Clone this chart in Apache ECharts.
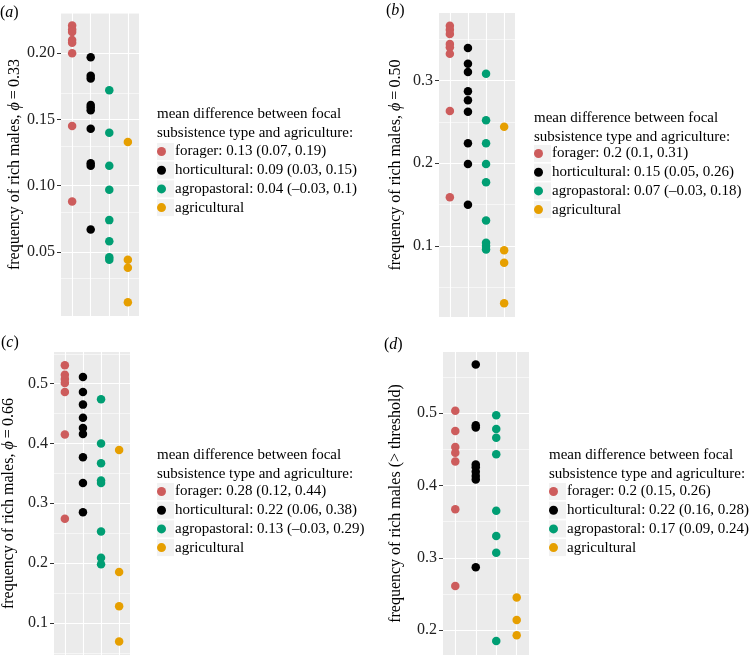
<!DOCTYPE html>
<html><head><meta charset="utf-8">
<script src="https://cdn.jsdelivr.net/npm/echarts@6/dist/echarts.min.js"></script>
<style>html,body{margin:0;padding:0;background:#fff}#c{width:752px;height:656px}</style>
</head><body><div id="c"></div>
<script>
const groups = ['forager', 'horticultural', 'agropastoral', 'agricultural'];
const groupColors = ['#CD5C5C', '#000000', '#009E73', '#E69F00'];

// panel (a): phi = 0.33
const a_forager = [0.221, 0.218, 0.216, 0.210, 0.208, 0.200, 0.145, 0.088];
const a_horticultural = [0.197, 0.183, 0.181, 0.161, 0.159, 0.157, 0.143, 0.117, 0.115, 0.067];
const a_agropastoral = [0.172, 0.140, 0.115, 0.097, 0.074, 0.058, 0.046, 0.044];
const a_agricultural = [0.133, 0.044, 0.038, 0.012];
const a_legend = ['forager: 0.13 (0.07, 0.19)', 'horticultural: 0.09 (0.03, 0.15)', 'agropastoral: 0.04 (\u20130.03, 0.1)', 'agricultural'];
const a_ticks = [0.05, 0.10, 0.15, 0.20];

// panel (b): phi = 0.50
const b_forager = [0.366, 0.361, 0.356, 0.344, 0.340, 0.332, 0.263, 0.159];
const b_horticultural = [0.339, 0.320, 0.310, 0.287, 0.276, 0.262, 0.224, 0.199, 0.150];
const b_agropastoral = [0.308, 0.252, 0.224, 0.199, 0.177, 0.131, 0.104, 0.100, 0.096];
const b_agricultural = [0.244, 0.095, 0.080, 0.031];
const b_legend = ['forager: 0.2 (0.1, 0.31)', 'horticultural: 0.15 (0.05, 0.26)', 'agropastoral: 0.07 (\u20130.03, 0.18)', 'agricultural'];
const b_ticks = [0.1, 0.2, 0.3];

// panel (c): phi = 0.66
const c_forager = [0.531, 0.515, 0.508, 0.501, 0.486, 0.415, 0.274];
const c_horticultural = [0.511, 0.486, 0.465, 0.443, 0.426, 0.416, 0.377, 0.334, 0.285];
const c_agropastoral = [0.474, 0.400, 0.367, 0.338, 0.334, 0.253, 0.209, 0.198];
const c_agricultural = [0.389, 0.185, 0.128, 0.069];
const c_legend = ['forager: 0.28 (0.12, 0.44)', 'horticultural: 0.22 (0.06, 0.38)', 'agropastoral: 0.13 (\u20130.03, 0.29)', 'agricultural'];
const c_ticks = [0.1, 0.2, 0.3, 0.4, 0.5];

// panel (d): > threshold
const d_forager = [0.503, 0.475, 0.453, 0.445, 0.433, 0.367, 0.261];
const d_horticultural = [0.567, 0.483, 0.480, 0.429, 0.425, 0.419, 0.413, 0.408, 0.287];
const d_agropastoral = [0.497, 0.478, 0.466, 0.443, 0.365, 0.330, 0.307, 0.185];
const d_agricultural = [0.245, 0.214, 0.193];
const d_legend = ['forager: 0.2 (0.15, 0.26)', 'horticultural: 0.22 (0.16, 0.28)', 'agropastoral: 0.17 (0.09, 0.24)', 'agricultural'];
const d_ticks = [0.2, 0.3, 0.4, 0.5];

const yNames = [
  'frequency of rich males, {i|\u03D5}\u2009=\u20090.33',
  'frequency of rich males, {i|\u03D5}\u2009=\u20090.50',
  'frequency of rich males, {i|\u03D5}\u2009=\u20090.66',
  'frequency of rich males (> threshold)'
];
const panelLetters = ['a', 'b', 'c', 'd'];
const legendHeading = 'mean difference between focal\nsubsistence type and agriculture:';

const FONT = 'Liberation Serif';

const panels = [
  { series: [a_forager, a_horticultural, a_agropastoral, a_agricultural], legend: a_legend, ticks: a_ticks, dec: 2,
    grid: { left: 61, top: 13, width: 78, height: 303 }, ymin: 0.0016, ymax: 0.2304, nameGap: 37,
    legendLeft: 157, headTop: 105, legendTop: 144, letterPos: { left: 0, top: 5 } },
  { series: [b_forager, b_horticultural, b_agropastoral, b_agricultural], legend: b_legend, ticks: b_ticks, dec: 1,
    grid: { left: 439, top: 13, width: 76, height: 304 }, ymin: 0.0144, ymax: 0.3813, nameGap: 35,
    legendLeft: 534, headTop: 109, legendTop: 146, letterPos: { left: 386, top: 3 } },
  { series: [c_forager, c_horticultural, c_agropastoral, c_agricultural], legend: c_legend, ticks: c_ticks, dec: 1,
    grid: { left: 54, top: 352, width: 76, height: 303 }, ymin: 0.0463, ymax: 0.553, nameGap: 37,
    legendLeft: 157, headTop: 446, legendTop: 484, letterPos: { left: 1, top: 335 } },
  { series: [d_forager, d_horticultural, d_agropastoral, d_agricultural], legend: d_legend, ticks: d_ticks, dec: 1,
    grid: { left: 443, top: 352, width: 86, height: 303 }, ymin: 0.1657, ymax: 0.5843, nameGap: 39,
    legendLeft: 549, headTop: 446, legendTop: 484, letterPos: { left: 384, top: 337 } }
];

const option = {
  animation: false,
  backgroundColor: '#ffffff',
  grid: [], xAxis: [], yAxis: [], series: [], legend: [], title: [], graphic: []
};

panels.forEach((p, pi) => {
  option.grid.push(Object.assign({ show: true, backgroundColor: '#EBEBEB', borderWidth: 0 }, p.grid));
  option.xAxis.push({ type: 'value', gridIndex: pi, min: 0.4, max: 4.6, show: false });
  option.yAxis.push({
    type: 'value', gridIndex: pi, min: p.ymin, max: p.ymax,
    name: yNames[pi], nameLocation: 'middle', nameGap: p.nameGap,
    nameTextStyle: { fontFamily: FONT, fontSize: 16, color: '#000',
      rich: { i: { fontFamily: FONT, fontSize: 16, fontStyle: 'italic', color: '#000' } } },
    axisLine: { show: false },
    axisTick: { show: true, customValues: p.ticks, length: 4, lineStyle: { color: '#333', width: 1 } },
    axisLabel: { customValues: p.ticks, formatter: v => v.toFixed(p.dec), fontFamily: FONT, fontSize: 16, color: '#222', margin: 6 },
    splitLine: { show: false }
  });

  // grid lines (major at ticks and categories, minor between ticks)
  const step = p.ticks[1] - p.ticks[0];
  const lines = [];
  groups.forEach((g, gi) => lines.push({ xAxis: gi + 1, lineStyle: { width: 1.1 } }));
  p.ticks.forEach(t => lines.push({ yAxis: t, lineStyle: { width: 1.1 } }));
  const minors = [p.ticks[0] - step / 2].concat(p.ticks.map(t => t + step / 2));
  minors.filter(m => m > p.ymin && m < p.ymax).forEach(m => lines.push({ yAxis: m, lineStyle: { width: 0.55 } }));
  option.series.push({
    type: 'scatter', xAxisIndex: pi, yAxisIndex: pi, data: [], silent: true, z: 1,
    markLine: { silent: true, z: 1, symbol: ['none', 'none'], label: { show: false },
      lineStyle: { color: '#ffffff', type: 'solid' }, emphasis: { disabled: true }, data: lines }
  });

  p.series.forEach((vals, gi) => {
    option.series.push({
      type: 'scatter', name: p.legend[gi], xAxisIndex: pi, yAxisIndex: pi, z: 3,
      symbol: 'circle', symbolSize: 8.5,
      itemStyle: { color: groupColors[gi], opacity: 1 },
      data: vals.map(v => [gi + 1, v])
    });
  });

  option.legend.push({
    orient: 'vertical', left: p.legendLeft, top: p.legendTop, padding: 0,
    itemWidth: 17, itemHeight: 9, itemGap: 3.7, icon: 'circle', selectedMode: false,
    data: p.legend, textStyle: { fontFamily: FONT, fontSize: 15, color: '#000' }
  });
  // legend key backgrounds
  p.legend.forEach((l, li) => {
    option.graphic.push({ type: 'rect', left: p.legendLeft, top: p.legendTop + 7.5 + li * 18.7 - 8.5, z: -1,
      shape: { width: 17, height: 17 }, style: { fill: '#F2F2F2' }, silent: true });
  });
  option.title.push({
    text: legendHeading, left: p.legendLeft, top: p.headTop, padding: 0,
    textStyle: { fontFamily: FONT, fontSize: 15, fontWeight: 'normal', color: '#000', lineHeight: 18.4 }
  });
  option.title.push({
    text: '({i|' + panelLetters[pi] + '})', left: p.letterPos.left, top: p.letterPos.top, padding: 0,
    textStyle: { fontFamily: FONT, fontSize: 16, fontWeight: 'normal', color: '#000',
      rich: { i: { fontFamily: FONT, fontSize: 16, fontStyle: 'italic', color: '#000' } } }
  });
});

const chart = echarts.init(document.getElementById('c'), null, { renderer: 'canvas' });
chart.setOption(option);
</script>
</body></html>
